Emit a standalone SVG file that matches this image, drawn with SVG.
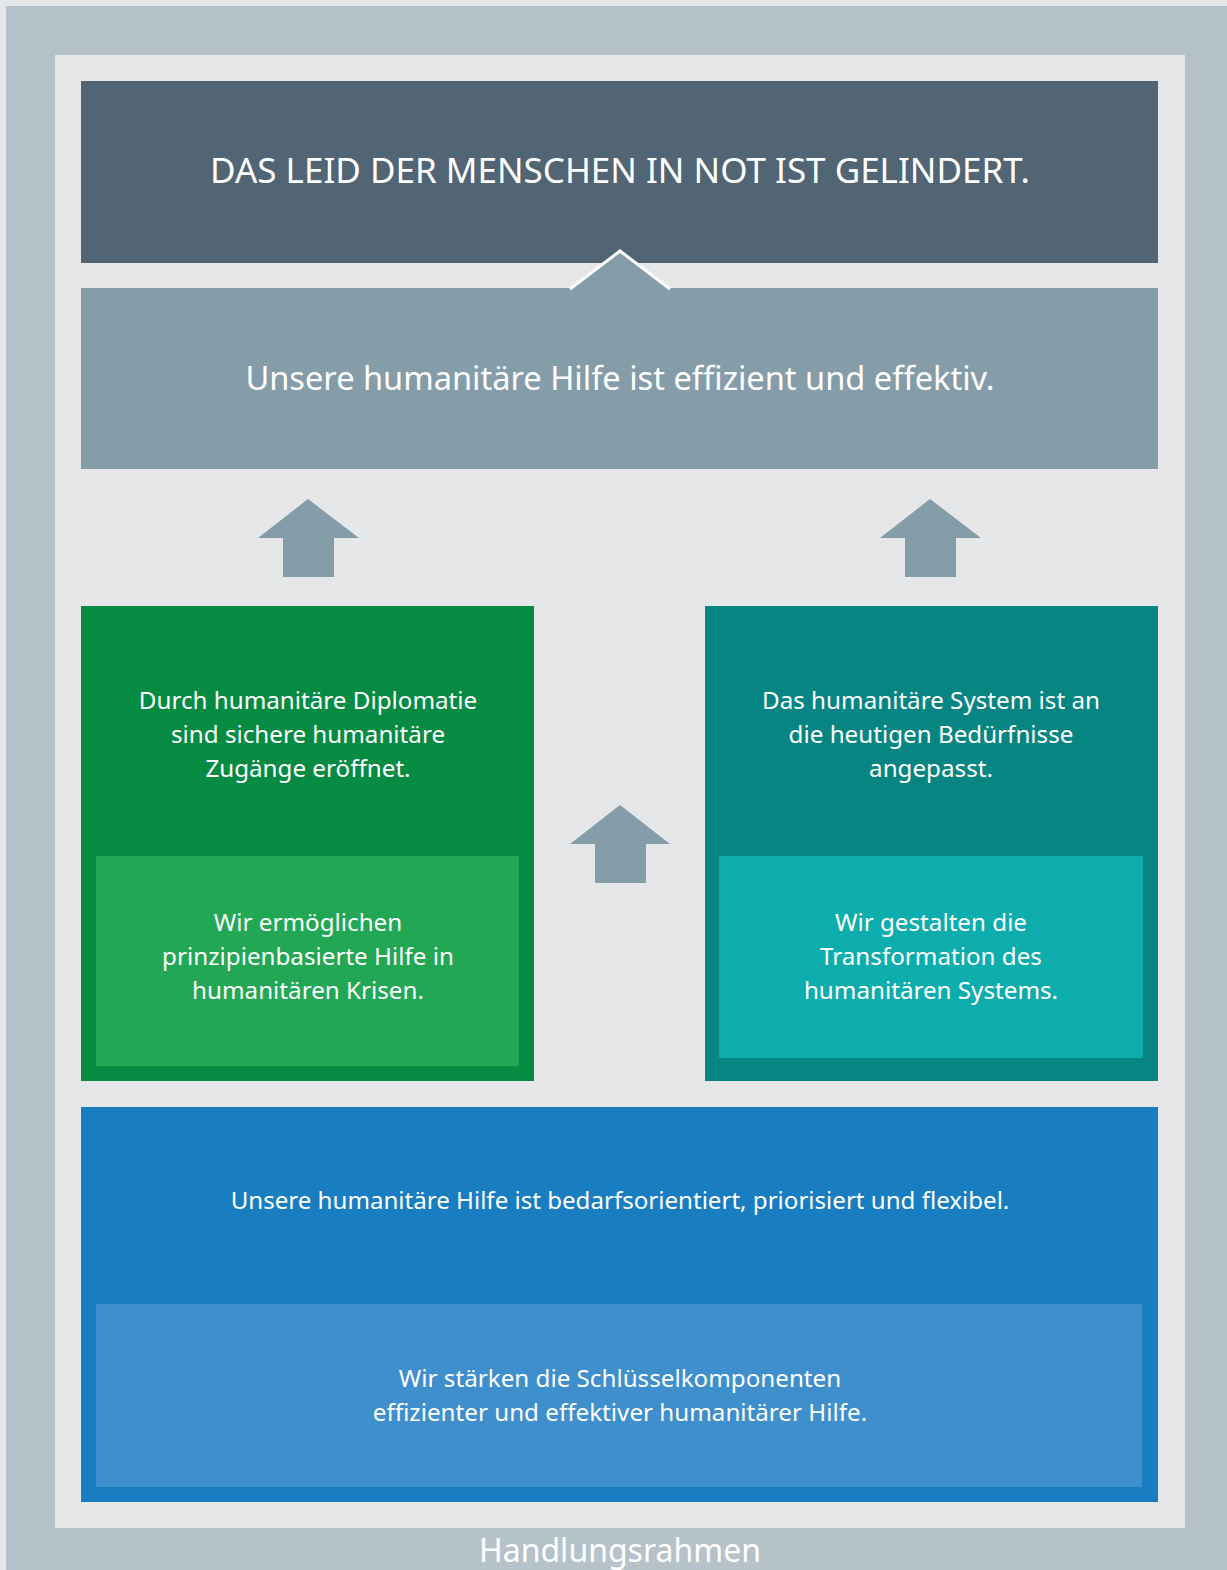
<svg xmlns="http://www.w3.org/2000/svg" width="1227" height="1570" viewBox="0 0 1227 1570">
<style>
text{font-family:"Noto Sans","Open Sans","Liberation Sans",sans-serif;fill:#ffffff;text-anchor:middle}
.t1{font-size:35px}
.t2{font-size:32.6px}
.t3{font-size:24.2px}
.t4{font-size:24.1px}
.t5{font-size:32px}
.arrow{fill:#859ca9}
</style>
<rect x="0" y="0" width="1227" height="1570" fill="#e5e7e9"/>
<rect id="frame" x="6" y="6" width="1221" height="1564" fill="#b5c2ca"/>
<rect x="55" y="55" width="1130" height="1473" fill="#e5e7e9"/>
<text class="t5" x="620" y="1562">Handlungsrahmen</text>

<g id="goal">
<rect x="81" y="81" width="1077" height="182" fill="#516574"/>
<text class="t1" x="620" y="183">DAS LEID DER MENSCHEN IN NOT IST GELINDERT.</text>
</g>

<g id="outcome">
<rect x="81" y="288" width="1077" height="181" fill="#859ca9"/>
<polygon points="570,289 620,251 670,289" fill="#859ca9"/>
<polyline points="570,289 620,251 670,289" fill="none" stroke="#ffffff" stroke-width="3" stroke-linejoin="miter"/>
<text class="t2" x="620" y="390">Unsere humanitäre Hilfe ist effizient und effektiv.</text>
</g>

<g id="connectors">
<polygon class="arrow" points="308,499 359,538 334,538 334,577 283,577 283,538 258,538"/>
<polygon class="arrow" points="930,499 981,538 956,538 956,577 905,577 905,538 880,538"/>
<polygon class="arrow" points="620,805 670,844 646,844 646,883 595,883 595,844 570,844"/>
</g>

<g id="diplomacy">
<rect x="81" y="606" width="453" height="475" fill="#068b43"/>
<text class="t3" x="308" y="709">Durch humanitäre Diplomatie</text>
<text class="t3" x="308" y="743">sind sichere humanitäre</text>
<text class="t3" x="308" y="777">Zugänge eröffnet.</text>
</g>
<g id="principled">
<rect x="96" y="856" width="423" height="210" fill="#22a854"/>
<text class="t3" x="308" y="931">Wir ermöglichen</text>
<text class="t3" x="308" y="965">prinzipienbasierte Hilfe in</text>
<text class="t3" x="308" y="999">humanitären Krisen.</text>
</g>

<g id="system">
<rect x="705" y="606" width="453" height="475" fill="#078583"/>
<text class="t3" x="931" y="709">Das humanitäre System ist an</text>
<text class="t3" x="931" y="743">die heutigen Bedürfnisse</text>
<text class="t3" x="931" y="777">angepasst.</text>
</g>
<g id="transformation">
<rect x="719" y="856" width="424" height="202" fill="#0eadad"/>
<text class="t3" x="931" y="931">Wir gestalten die</text>
<text class="t3" x="931" y="965">Transformation des</text>
<text class="t3" x="931" y="999">humanitären Systems.</text>
</g>

<g id="needs">
<rect x="81" y="1107" width="1077" height="395" fill="#187dc1"/>
<text class="t4" x="620" y="1209">Unsere humanitäre Hilfe ist bedarfsorientiert, priorisiert und flexibel.</text>
</g>
<g id="components">
<rect x="96" y="1304" width="1046" height="183" fill="#3e8fcc"/>
<text class="t3" x="620" y="1387">Wir stärken die Schlüsselkomponenten</text>
<text class="t3" x="620" y="1421">effizienter und effektiver humanitärer Hilfe.</text>
</g>
</svg>
